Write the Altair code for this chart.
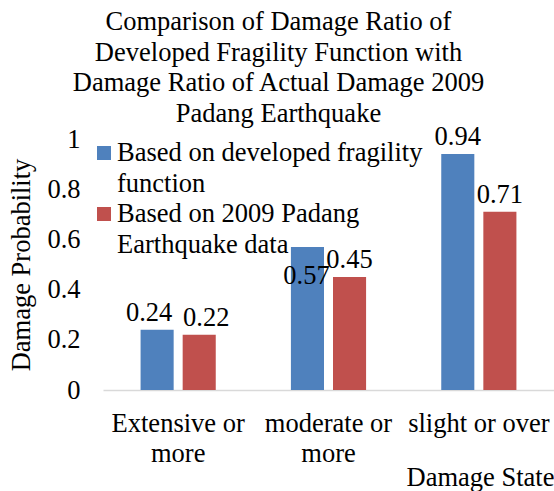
import altair as alt
import pandas as pd

categories = ["Extensive or more", "moderate or more", "slight or over"]
series = ["Based on developed fragility function", "Based on 2009 Padang Earthquake data"]
legend_lines = ["Based on developed fragility|function", "Based on 2009 Padang|Earthquake data"]
fragility = [0.24, 0.57, 0.94]
padang = [0.22, 0.45, 0.71]
colors = ["#4F81BD", "#C0504D"]

rows = []
for c, a, b in zip(categories, fragility, padang):
    rows.append({"state": c, "series": series[0], "value": a})
    rows.append({"state": c, "series": series[1], "value": b})
df = pd.DataFrame(rows)
leg_df = pd.DataFrame({"series": series, "label_text": legend_lines})

FONT = "Liberation Serif"
FS = 26.5

x = alt.X("state:N", sort=categories, title="Damage State",
          scale=alt.Scale(paddingInner=0.5, paddingOuter=0.25),
          axis=alt.Axis(labelAngle=0, ticks=False, domainColor="#D9D9D9", domainWidth=1.5,
                        labelExpr="indexof(datum.label, ' more') > 0 ? [replace(datum.label, ' more', ''), 'more'] : datum.label",
                        labelLineHeight=30, labelPadding=20, labelFontSize=FS,
                        titleAlign="right", titleBaseline="alphabetic", titleX=451, titleY=95,
                        titleFontSize=FS, titleFontWeight="normal"))
xo = alt.XOffset("series:N", sort=series, scale=alt.Scale(paddingInner=0.214, paddingOuter=0))
y = alt.Y("value:Q", title="Damage Probability",
          scale=alt.Scale(domain=[0, 1], nice=False),
          axis=alt.Axis(values=[0, 0.2, 0.4, 0.6, 0.8, 1], format="~g", grid=False, domain=False, ticks=False,
                        labelFontSize=FS, labelPadding=23, titleFontSize=FS, titleFontWeight="normal",
                        titlePadding=11))
cscale = alt.Scale(domain=series, range=colors)
color = alt.Color("series:N", sort=series, scale=cscale, legend=None)

base = alt.Chart(df)
bars = base.mark_bar().encode(x=x, xOffset=xo, y=y, color=color)


def value_labels(filter_expr, dx, dy):
    return base.mark_text(font=FONT, fontSize=FS, baseline="alphabetic", dx=dx, dy=dy).encode(
        x=x, xOffset=xo, y=y, text=alt.Text("value:Q", format=".2f")
    ).transform_filter(filter_expr)


first = "datum.state == '%s'" % categories[0]
lab_a = value_labels("%s && datum.series == '%s'" % (first, series[0]), -8, -9)
lab_b = value_labels("%s && datum.series == '%s'" % (first, series[1]), 7, -9)
lab_c = value_labels("datum.state != '%s' && datum.value != 0.57" % categories[0], 0, -9)
lab_d = value_labels("datum.value == 0.57", -1, 37)

# legend (drawn as marks so that the two-line labels keep Excel's spacing)
leg_base = alt.Chart(leg_df).transform_calculate(lines="split(datum.label_text, '|')")
legend_layers = []
for i, s in enumerate(series):
    top = 14 + 61 * i
    sel = leg_base.transform_filter(alt.datum.series == s)
    legend_layers.append(sel.mark_square(size=196, opacity=1).encode(
        x=alt.value(1), y=alt.value(top), color=color))
    legend_layers.append(sel.mark_text(font=FONT, fontSize=FS, align="left", baseline="alphabetic",
                                       lineHeight=30.5).encode(
        x=alt.value(14), y=alt.value(top + 8), text=alt.Text("lines:N")))

chart = alt.layer(bars, lab_a, lab_b, lab_c, lab_d, *legend_layers).properties(
    width=451, height=251,
    title=alt.TitleParams(
        text=["Comparison of Damage Ratio of", "Developed Fragility Function with",
              "Damage Ratio of Actual Damage 2009", "Padang Earthquake"],
        font=FONT, fontSize=FS, fontWeight="normal", lineHeight=30.5, anchor="middle", dx=-50, offset=-3),
    autosize=alt.AutoSizeParams(type="none"),
    padding={"left": 103, "top": 139, "right": 0, "bottom": 101},
).configure_view(stroke=None).configure_axis(labelFont=FONT, titleFont=FONT, labelColor="black", titleColor="black"
).configure_text(color="black")

chart.save("out.html", embed_options={"renderer": "svg", "actions": False})
